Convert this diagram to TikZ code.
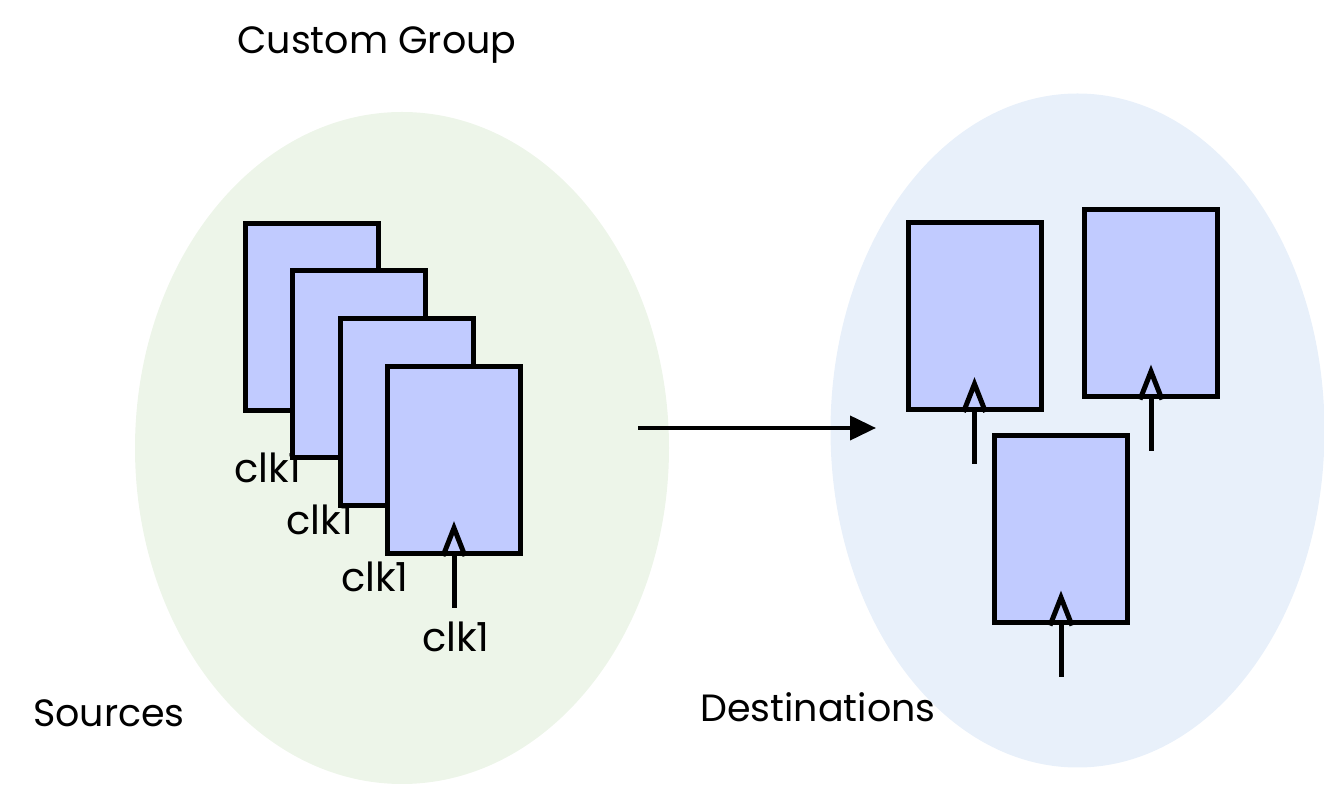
\documentclass[tikz,border=0pt]{standalone}
\usepackage{fontspec}
\setmainfont{Poppins}
\usepackage{tikz}
\usetikzlibrary{arrows.meta}
\definecolor{ffblue}{RGB}{193,203,255}
\definecolor{srcgreen}{RGB}{237,245,233}
\definecolor{dstblue}{RGB}{232,240,250}
\tikzstyle{ffbox} = [draw=black, fill=ffblue, line width=2.5pt,
    rectangle, inner sep=0pt, minimum width=66.5pt, minimum height=93.5pt]
\tikzstyle{clklabel} =[font=\fontsize{20}{24}\selectfont, inner sep=0pt]
\tikzstyle{grouptitle} =[font=\fontsize{19}{23}\selectfont, inner sep=0pt]
\newcommand{\clkpin}[1]{%
    \draw[line width=2.5pt, line join=miter] ([xshift=-5.5pt]#1.south) -- ([yshift=14pt]#1.south) -- ([xshift=5.5pt]#1.south);
    \draw[line width=2.5pt] (#1.south) -- ([yshift=-26pt]#1.south);
}

\begin{document}
\begin{tikzpicture}[x=0.5pt, y=-0.5pt]
                \useasboundingbox (0,0) rectangle (1324,785);
                % the two groups
                \fill[srcgreen] (402,448) ellipse [x radius=133.5pt, y radius=168pt];
                \fill[dstblue] (1077.5,430.5) ellipse [x radius=123.5pt, y radius=168.5pt];
                \node[grouptitle] (custom) at (377,45) {Custom Group};
                \node[grouptitle] (sources) at (109,713) {Sources};
                \node[grouptitle] (dests) at (818,707) {Destinations};
                % sources, stacked
                \node[ffbox] (s1) at (311.5,317) {};
                \node[clklabel] (c1) at (268,468) {clk1};
                \node[ffbox] (s2) at (358.5,364) {};
                \node[clklabel] (c2) at (320,520) {clk1};
                \node[ffbox] (s3) at (406.5,412.5) {};
                \node[clklabel] (c3) at (375,577) {clk1};
                \node[ffbox] (s4) at (454,460) {};
                \clkpin{s4}
                \node[clklabel] (c4) at (456,637) {clk1};
                % destinations
                \node[ffbox] (d1) at (974.5,316) {};
                \clkpin{d1}
                \node[ffbox] (d2) at (1151,303.5) {};
                \clkpin{d2}
                \node[ffbox] (d3) at (1061,529.5) {};
                \clkpin{d3}
                \coordinate (from) at (638,428);
                \coordinate (to) at (876,428);
                \draw[line width=2pt, -{Triangle[length=13pt,width=12pt]}] (from) -- (to);
            \end{tikzpicture}
\end{document}
